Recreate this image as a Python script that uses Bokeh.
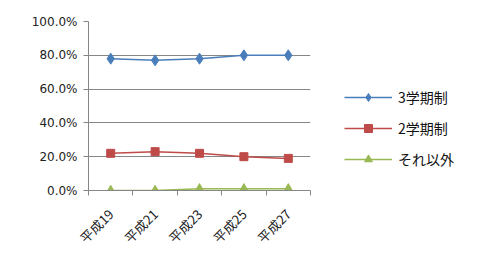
from bokeh.plotting import figure
from bokeh.models import (FactorRange, Range1d, LinearAxis, FixedTicker, NumeralTickFormatter,
                          Legend, LegendItem, CategoricalAxis)
from bokeh.embed import file_html
from bokeh.resources import INLINE
import math

categories = ["平成19", "平成21", "平成23", "平成25", "平成27"]
series_names = ["3学期制", "2学期制", "それ以外"]
three_term = [78, 77, 78, 80, 80]
two_term = [22, 23, 22, 20, 19]
other = [0, 0, 1, 1, 1]
y_ticks = [0, 0.2, 0.4, 0.6, 0.8, 1.0]

GRAY = "#868686"
FONT = "Noto Sans CJK JP"

p = figure(frame_width=222, frame_height=169, output_backend="svg", toolbar_location=None,
           x_range=FactorRange(*categories), y_range=Range1d(0, 1.0),
           x_axis_location=None, y_axis_location="left",
           min_border_left=88, min_border_right=178, min_border_top=21, min_border_bottom=64)
p.outline_line_color = None
p.xgrid.grid_line_color = None
p.ygrid.grid_line_color = GRAY
p.ygrid.ticker = FixedTicker(ticks=y_ticks)

ya = p.yaxis[0]
ya.ticker = FixedTicker(ticks=y_ticks)
ya.formatter = NumeralTickFormatter(format="0.0%")
ya.axis_line_color = GRAY
ya.major_tick_line_color = GRAY
ya.major_tick_out = 5
ya.major_tick_in = 0
ya.minor_tick_line_color = None
ya.major_label_text_font = "DejaVu Sans"
ya.major_label_text_font_size = "12px"
ya.major_label_text_color = "#222222"
ya.major_label_standoff = 6

# tick marks at category boundaries (synthetic coordinates of the factor range)
ea = LinearAxis(ticker=FixedTicker(ticks=list(range(len(categories) + 1))),
                axis_line_color=GRAY, major_tick_line_color=GRAY, major_tick_out=5, major_tick_in=0,
                minor_tick_line_color=None, major_label_text_font_size="0px", major_label_standoff=0,
                major_label_text_color=None)
p.add_layout(ea, "below")

ca = CategoricalAxis(axis_line_color=None, major_tick_line_color=None,
                     major_label_orientation=math.pi / 4, major_label_text_font=FONT,
                     major_label_text_font_size="13px", major_label_text_color="#222222",
                     major_label_standoff=10)
p.add_layout(ca, "below")

blue, red, green = "#4A7EBB", "#BE4B48", "#98B954"
vals = [[v / 100 for v in s] for s in (three_term, two_term, other)]

r1 = p.line(categories, vals[0], line_color=blue, line_width=1.5)
m1 = p.scatter(categories, vals[0], marker="diamond", size=11, fill_color=blue, line_color=blue)
r2 = p.line(categories, vals[1], line_color=red, line_width=1.5)
m2 = p.scatter(categories, vals[1], marker="square", size=8, fill_color=red, line_color=red)
r3 = p.line(categories, vals[2], line_color=green, line_width=1.5)
m3 = p.scatter(categories, vals[2], marker="triangle", size=9, fill_color=green, line_color=green)

legend = Legend(items=[LegendItem(label=series_names[0], renderers=[r1, m1]),
                       LegendItem(label=series_names[1], renderers=[r2, m2]),
                       LegendItem(label=series_names[2], renderers=[r3, m3])],
                location="top_left", glyph_width=48, glyph_height=20, spacing=11,
                padding=0, margin=34, border_line_color=None, background_fill_alpha=0,
                title=" ", title_text_font_size="12px", title_standoff=18,
                label_text_font=FONT, label_text_font_size="14px", label_standoff=6,
                label_text_color="#111111")
p.add_layout(legend, "right")

open("out.html", "w").write(file_html(p, INLINE))
